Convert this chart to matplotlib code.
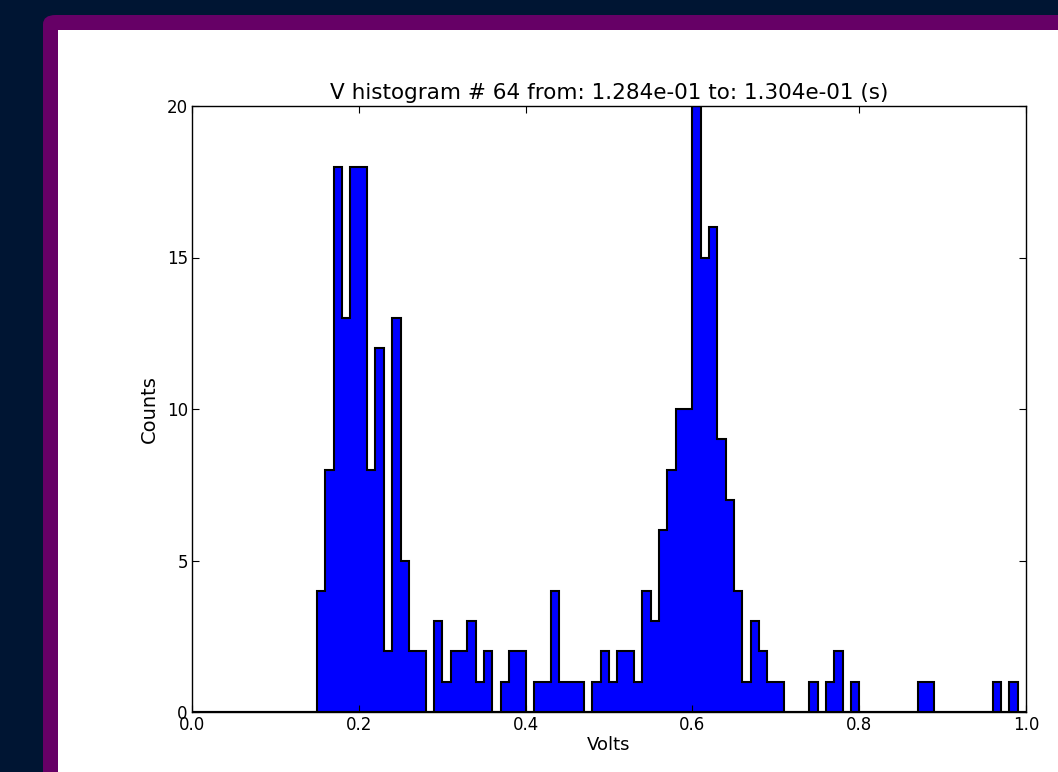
import numpy as np
import matplotlib
matplotlib.use('Agg')
import matplotlib.pyplot as plt
from matplotlib.patches import FancyBboxPatch, Rectangle

# bin left edges go from 0.00 to 0.99 in steps of 0.01
bin_edges = np.round(np.arange(0, 101) * 0.01, 2)

# counts per bin (bins 0.00 .. 0.99)
counts = [0] * 15 + [
    4, 8, 18, 13, 18, 18, 8, 12, 2, 13,    # 0.15 - 0.24
    5, 2, 2, 0, 3, 1, 2, 2, 3, 1,          # 0.25 - 0.34
    2, 0, 1, 2, 2, 0, 1, 1, 4, 1,          # 0.35 - 0.44
    1, 1, 0, 1, 2, 1, 2, 2, 1, 4,          # 0.45 - 0.54
    3, 6, 8, 10, 10, 20, 15, 16, 9, 7,     # 0.55 - 0.64
    4, 1, 3, 2, 1, 1, 0, 0, 0, 1,          # 0.65 - 0.74
    0, 1, 2, 0, 1, 0, 0, 0, 0, 0,          # 0.75 - 0.84
    0, 0, 1, 1, 0, 0, 0, 0, 0, 0,          # 0.85 - 0.94
    0, 1, 0, 1, 0,                          # 0.95 - 0.99
]

title = 'V histogram # 64 from: 1.284e-01 to: 1.304e-01 (s)'

W, H = 1058, 772
fig = plt.figure(figsize=(W / 100, H / 100), dpi=100, facecolor='#001533')

# purple window frame and white canvas of the screenshot
frame = FancyBboxPatch((43 / W, -0.1), 1.2, (H - 15) / H + 0.1,
                       boxstyle='round,pad=0,rounding_size=0.012',
                       transform=fig.transFigure, facecolor='#660066',
                       edgecolor='none', zorder=-2)
fig.patches.append(frame)
canvas = Rectangle((58 / W, -0.1), 1.2, (H - 30) / H + 0.1,
                   transform=fig.transFigure, facecolor='white',
                   edgecolor='none', zorder=-1)
fig.patches.append(canvas)

ax = fig.add_axes([192 / W, (H - 712) / H, (1026 - 192) / W, (712 - 106) / H])
ax.set_zorder(2)
ax.set_facecolor('white')

ax.hist(bin_edges[:-1], bins=bin_edges, weights=counts, histtype='stepfilled',
        facecolor='#0000ff', edgecolor='black', linewidth=1.5)

ax.set_xlim(0, 1.0)
ax.set_ylim(0, 20)
ax.set_xticks([0.0, 0.2, 0.4, 0.6, 0.8, 1.0])
ax.set_yticks([0, 5, 10, 15, 20])
ax.tick_params(direction='in', top=True, right=True, length=5, labelsize=12, pad=3)
for s in ax.spines.values():
    s.set_linewidth(1.0)

ax.set_title(title, fontsize=15.5, pad=5)
ax.set_xlabel('Volts', fontsize=13, labelpad=1)
ax.set_ylabel('Counts', fontsize=14, labelpad=6)

plt.savefig('out.png', dpi=100, facecolor=fig.get_facecolor())
